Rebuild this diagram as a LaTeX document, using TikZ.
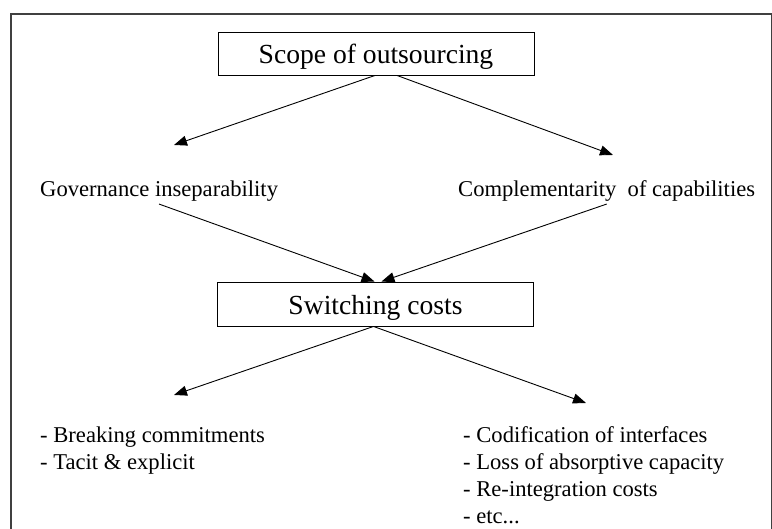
\documentclass[tikz,border=0pt]{standalone}
\usepackage{fontspec}
\setmainfont{Liberation Serif}
\usepackage{tikz}
\usetikzlibrary{shapes, arrows.meta, positioning}

\begin{document}
\begin{tikzpicture}[x=1pt, y=-1pt]
        % Styles
        \tikzstyle{block} = [draw, line width=0.9pt, rectangle, minimum height=43pt, minimum width=316pt, inner sep=0pt, text height=20pt, text depth=0pt, font=\fontsize{27.6}{33}\selectfont]
        \tikzstyle{label} = [inner sep=2pt, font=\fontsize{22.6}{27}\selectfont]
        \tikzstyle{list} = [inner sep=0pt, align=left, font=\fontsize{22.6}{27}\selectfont]
        \tikzstyle{arrow} = [-{Triangle[length=13pt, width=10pt]}, line width=0.9pt]

        \useasboundingbox (0,0) rectangle (772,529);

        % Frame
        \draw [gray!50!black, line width=1.5pt] (11,529) -- (11,14) -- (771.5,14) -- (771.5,529);

        % Nodes
        \node [block] (scope) at (376,53.5) {Scope of outsourcing};
        \node [label, anchor=base west] (gov) at (38,197) {Governance inseparability};
        \node [label, anchor=base west] (comp) at (456,197) {Complementarity\ \ of capabilities};
        \node [block, minimum height=44pt, text height=21pt] (switch) at (375.5,304) {Switching costs};
        \node [list, anchor=north west] (tacit) at (40,426.5) {- Breaking commitments\\- Tacit \& explicit};
        \node [list, anchor=north west] (codif) at (463,426.5) {- Codification of interfaces\\- Loss of absorptive capacity\\- Re-integration costs\\- etc...};

        % Arrow ends
        \coordinate (govtip) at (174,145);
        \coordinate (comptip) at (613,155);
        \coordinate (tacittip) at (174,395);
        \coordinate (codiftip) at (586,403);

        % Arrows
        \draw [arrow] ([xshift=-1pt]scope.south) -- (govtip);
        \draw [arrow] ([xshift=21pt]scope.south) -- (comptip);
        \draw [arrow] (gov.south) -- ([xshift=-1pt]switch.north);
        \draw [arrow] (comp.south) -- ([xshift=6pt]switch.north);
        \draw [arrow] ([xshift=-2pt]switch.south) -- (tacittip);
        \draw [arrow] ([xshift=-2pt]switch.south) -- (codiftip);
    \end{tikzpicture}
\end{document}
